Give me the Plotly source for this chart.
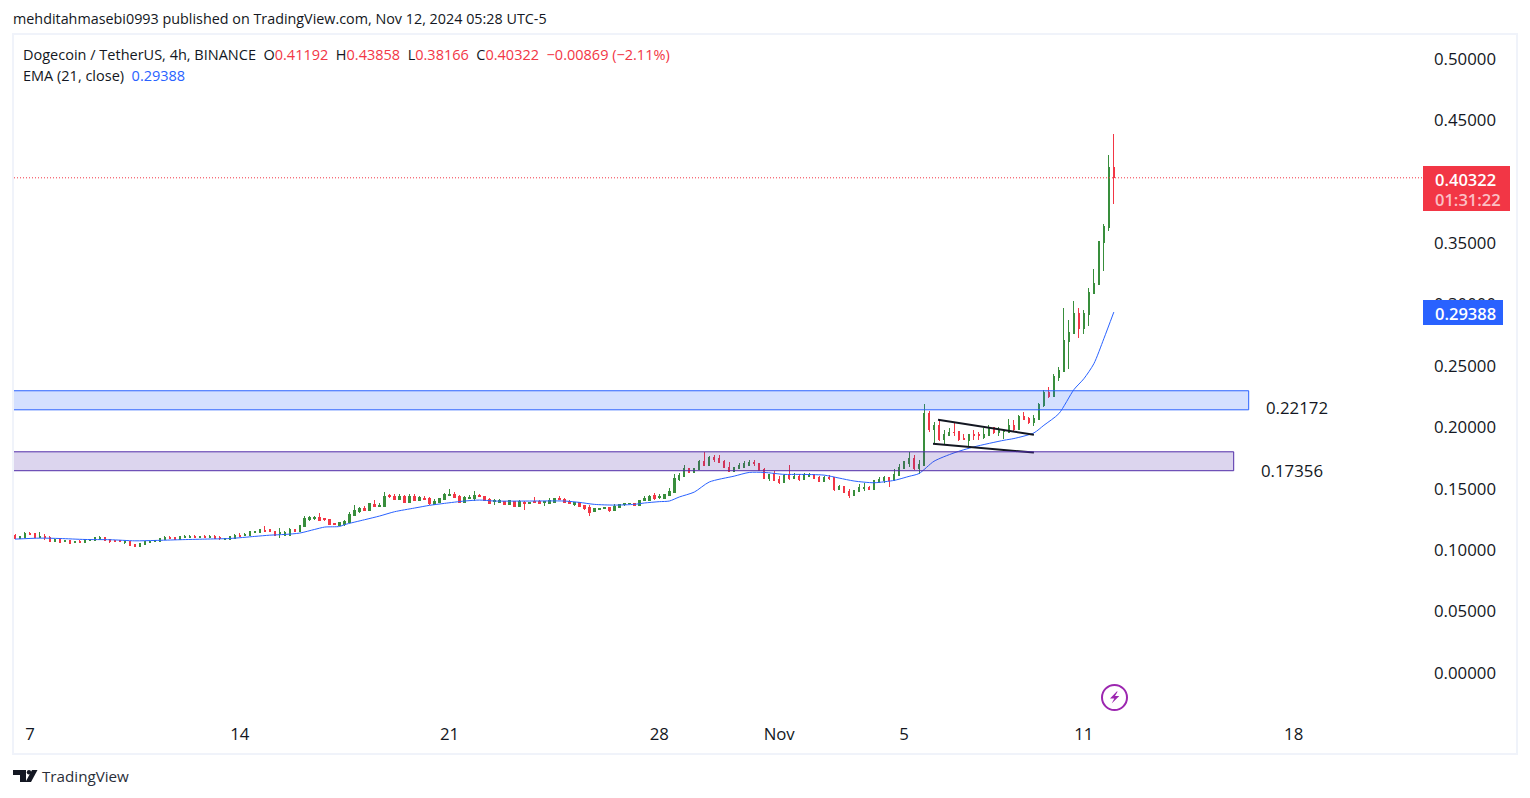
import pandas as pd
import plotly.graph_objects as go

# DOGE/USDT 4h candles, one entry per bar
opens = [
    .1122,.1093,.1101,.1139,.1136,.1101,.1114,.1106,.1071,.1090,
    .1071,.1076,.1063,.1074,.1063,.1082,.1079,.1085,.1103,.1085,
    .1082,.1082,.1063,.1068,.1049,.1030,.1049,.1063,.1074,.1071,
    .1085,.1106,.1103,.1085,.1103,.1103,.1109,.1103,.1109,.1103,
    .1109,.1103,.1090,.1090,.1095,.1120,.1122,.1120,.1141,.1147,
    .1158,.1166,.1152,.1136,.1120,.1122,.1171,.1150,.1196,.1253,
    .1255,.1269,.1255,.1250,.1216,.1202,.1205,.1227,.1283,.1313,
    .1340,.1324,.1373,.1359,.1359,.1443,.1441,.1416,.1441,.1392,
    .1441,.1408,.1424,.1422,.1373,.1389,.1416,.1446,.1457,.1441,
    .1392,.1424,.1419,.1446,.1438,.1414,.1395,.1392,.1395,.1373,
    .1395,.1357,.1392,.1384,.1400,.1397,.1386,.1384,.1389,.1424,
    .1414,.1400,.1373,.1392,.1365,.1351,.1311,.1335,.1340,.1346,
    .1324,.1351,.1373,.1376,.1378,.1367,.1408,.1405,.1443,.1427,
    .1424,.1449,.1471,.1574,.1601,.1666,.1636,.1655,.1720,.1687,
    .1755,.1747,.1725,.1671,.1644,.1666,.1674,.1693,.1714,.1706,
    .1658,.1584,.1622,.1576,.1552,.1609,.1587,.1603,.1576,.1603,
    .1614,.1592,.1563,.1595,.1590,.1495,.1519,.1481,.1446,.1479,
    .1506,.1511,.1495,.1554,.1568,.1592,.1568,.1611,.1665,.1705,
    .1749,.1665,.1692,.2115,.1985,.2017,.1903,.1933,.1960,.1963,
    .1911,.1895,.1944,.1944,.1920,.1936,.1998,.1960,.1968,.1960,
    .2017,.1985,.2090,.2074,.2039,.2066,.2180,.2285,.2253,.2407,
    .2456,.2700,.2765,.2928,.2806,.2919,.3090,.3163,.3506,.3628,.41192,
]
highs = [
    .1133,.1112,.1152,.1144,.1136,.1144,.1128,.1112,.1087,.1101,
    .1076,.1076,.1068,.1085,.1085,.1090,.1101,.1112,.1103,.1085,
    .1082,.1082,.1071,.1068,.1049,.1057,.1074,.1074,.1079,.1095,
    .1112,.1112,.1109,.1112,.1120,.1120,.1120,.1109,.1120,.1120,
    .1120,.1114,.1098,.1112,.1131,.1136,.1139,.1155,.1160,.1174,
    .1193,.1166,.1152,.1177,.1160,.1179,.1171,.1201,.1282,.1277,
    .1282,.1299,.1266,.1250,.1224,.1227,.1243,.1308,.1365,.1351,
    .1357,.1381,.1405,.1381,.1470,.1454,.1460,.1460,.1449,.1457,
    .1454,.1438,.1443,.1430,.1414,.1424,.1468,.1495,.1470,.1449,
    .1438,.1449,.1479,.1460,.1438,.1422,.1416,.1414,.1395,.1403,
    .1395,.1408,.1397,.1392,.1430,.1408,.1395,.1427,.1419,.1441,
    .1422,.1405,.1392,.1392,.1365,.1365,.1338,.1343,.1346,.1346,
    .1378,.1370,.1378,.1381,.1378,.1405,.1438,.1449,.1462,.1454,
    .1457,.1508,.1617,.1628,.1693,.1666,.1666,.1731,.1796,.1766,
    .1774,.1771,.1731,.1714,.1674,.1706,.1725,.1731,.1731,.1712,
    .1666,.1617,.1641,.1601,.1622,.1690,.1630,.1620,.1630,.1628,
    .1614,.1601,.1606,.1609,.1590,.1527,.1519,.1495,.1484,.1536,
    .1546,.1522,.1573,.1592,.1603,.1598,.1663,.1698,.1725,.1800,
    .1773,.1733,.2188,.2131,.2041,.2063,.1982,.1993,.2041,.1971,
    .1944,.1944,.1977,.1960,.1998,.2017,.2006,.2001,.1977,.2066,
    .2058,.2098,.2123,.2082,.2098,.2196,.2302,.2326,.2432,.2489,
    .2976,.2871,.3033,.2968,.2952,.3131,.3286,.3514,.3660,.4214,.43858,
]
lows = [
    .1093,.1093,.1101,.1131,.1103,.1101,.1085,.1071,.1071,.1063,
    .1063,.1047,.1055,.1066,.1063,.1082,.1079,.1079,.1079,.1055,
    .1063,.1074,.1052,.1038,.1033,.1030,.1049,.1063,.1074,.1071,
    .1085,.1095,.1085,.1085,.1103,.1103,.1103,.1103,.1103,.1103,
    .1098,.1079,.1090,.1090,.1095,.1112,.1114,.1120,.1136,.1147,
    .1152,.1155,.1122,.1098,.1120,.1122,.1152,.1150,.1196,.1234,
    .1244,.1244,.1234,.1209,.1208,.1202,.1199,.1227,.1283,.1305,
    .1324,.1324,.1359,.1359,.1359,.1422,.1414,.1416,.1392,.1392,
    .1408,.1408,.1416,.1370,.1373,.1389,.1416,.1438,.1432,.1384,
    .1384,.1424,.1400,.1441,.1408,.1381,.1367,.1392,.1365,.1373,
    .1357,.1357,.1324,.1376,.1392,.1376,.1359,.1384,.1389,.1405,
    .1384,.1376,.1362,.1359,.1324,.1278,.1311,.1335,.1340,.1313,
    .1324,.1351,.1359,.1376,.1367,.1367,.1397,.1405,.1405,.1416,
    .1424,.1449,.1471,.1563,.1601,.1636,.1636,.1655,.1690,.1687,
    .1714,.1714,.1671,.1644,.1644,.1666,.1674,.1693,.1685,.1647,
    .1587,.1563,.1568,.1538,.1552,.1573,.1587,.1563,.1576,.1595,
    .1587,.1554,.1563,.1573,.1479,.1495,.1473,.1424,.1446,.1479,
    .1484,.1495,.1495,.1554,.1546,.1514,.1568,.1611,.1665,.1676,
    .1651,.1624,.1692,.1963,.1863,.1887,.1868,.1933,.1928,.1887,
    .1895,.1852,.1901,.1895,.1903,.1936,.1949,.1928,.1903,.1960,
    .1971,.1985,.2066,.2028,.2009,.2066,.2163,.2237,.2253,.2375,
    .2456,.2472,.2765,.2724,.2762,.2822,.3090,.3163,.3270,.3595,.38166,
]
closes = [
    .1093,.1112,.1136,.1131,.1103,.1109,.1106,.1071,.1087,.1063,
    .1076,.1055,.1068,.1066,.1085,.1090,.1101,.1101,.1079,.1074,
    .1071,.1074,.1071,.1038,.1033,.1057,.1074,.1074,.1079,.1095,
    .1103,.1095,.1085,.1112,.1109,.1109,.1103,.1109,.1103,.1109,
    .1098,.1095,.1098,.1112,.1120,.1112,.1131,.1155,.1152,.1166,
    .1152,.1155,.1122,.1141,.1141,.1169,.1152,.1201,.1258,.1263,
    .1269,.1244,.1247,.1209,.1208,.1227,.1235,.1292,.1324,.1343,
    .1324,.1376,.1359,.1365,.1438,.1435,.1414,.1441,.1392,.1438,
    .1408,.1427,.1416,.1376,.1395,.1424,.1457,.1457,.1432,.1392,
    .1427,.1432,.1449,.1441,.1408,.1384,.1405,.1405,.1373,.1403,
    .1357,.1400,.1384,.1392,.1392,.1376,.1395,.1405,.1419,.1416,
    .1392,.1376,.1392,.1359,.1343,.1308,.1338,.1343,.1346,.1324,
    .1357,.1370,.1378,.1381,.1367,.1405,.1419,.1435,.1422,.1438,
    .1457,.1479,.1587,.1611,.1666,.1636,.1666,.1723,.1690,.1758,
    .1736,.1714,.1671,.1644,.1674,.1693,.1706,.1717,.1706,.1647,
    .1587,.1617,.1568,.1552,.1611,.1582,.1601,.1574,.1614,.1614,
    .1587,.1560,.1595,.1582,.1495,.1519,.1473,.1449,.1484,.1514,
    .1511,.1495,.1568,.1579,.1592,.1568,.1617,.1670,.1719,.1749,
    .1665,.1700,.2115,.1985,.2017,.1903,.1944,.1960,.1955,.1903,
    .1903,.1944,.1933,.1936,.1944,.1998,.1958,.1977,.1977,.2014,
    .1985,.2090,.2066,.2041,.2074,.2188,.2285,.2253,.2416,.2464,
    .2708,.2773,.2928,.2806,.2928,.3099,.3172,.3514,.3636,.4119,.40322,
]

# EMA 21, read at a set of bars along the line
ema_bars = [0,5,9,14,19,24,28,33,38,43,48,51,54,57,60,62,65,66,70,73,76,80,83,86,90,93,96,103,110,113,
            116,120,124,126,129,131,133,136,139,144,147,150,154,157,162,165,168,172,176,177,179,181,184,
            188,192,198,200,204,206,209,212,214,216,218,220]
ema_values = [.1090,.1098,.1095,.1087,.1085,.1076,.1079,.1085,.1090,.1095,.1112,.1122,.1128,.1139,.1169,.1188,.1193,
              .1208,.1248,.1278,.1313,.1343,.1365,.1381,.1400,.1408,.1400,.1400,.1400,.1389,.1373,.1367,.1373,.1384,
              .1395,.1400,.1433,.1473,.1555,.1603,.1633,.1633,.1617,.1617,.1611,.1587,.1563,.1549,.1568,.1578,.1601,
              .1624,.1724,.1792,.1841,.1895,.1909,.1955,.2017,.2112,.2307,.2396,.2518,.2722,.29388]

# 0.40000 sits fully behind the last price label in the picture, so it is left out
price_ticks = [0.0, 0.05, 0.1, 0.15, 0.2, 0.25, 0.3, 0.35, 0.45, 0.5]
time_tick_bars = [3, 45, 87, 129, 153, 178, 214, 256]
time_tick_labels = ["7", "14", "21", "28", "Nov", "5", "11", "18"]

# drawn zones and pennant
blue_zone = (0.2298, 0.2143)
purple_zone = (0.1801, 0.1647)
blue_zone_end = 247
purple_zone_end = 244
pennant_upper = ([184.8, 204.0], [0.2062, 0.1940])
pennant_lower = ([183.8, 204.0], [0.1866, 0.1795])

UP = "#388e3c"
DOWN = "#f23645"
BLUE = "#2962ff"
PURPLE = "#512da8"
INK = "#131722"
FONT = "Open Sans, sans-serif"

W, H = 1530, 798
PLOT_L, PLOT_R, PLOT_T, PLOT_B = 14, 1423, 35, 720


def fx(px):
    return (px - PLOT_L) / (PLOT_R - PLOT_L)


def fy(py):
    return (PLOT_B - py) / (PLOT_B - PLOT_T)


def path(points):
    # closed svg path from page pixels to paper coordinates
    return "M" + " L".join(f"{fx(x):.5f},{fy(y):.5f}" for x, y in points) + " Z"


def label(px, py, text, size=14, color=INK, anchor="left", weight=400):
    fig.add_annotation(x=fx(px), y=fy(py), xref="paper", yref="paper", text=text, showarrow=False,
                       xanchor=anchor, yanchor="middle", align=anchor, borderpad=0, borderwidth=0,
                       font=dict(family=FONT, size=size, color=color, weight=weight))


bars = list(range(len(closes)))
df = pd.DataFrame({"o": opens, "h": highs, "l": lows, "c": closes}, index=bars)

fig = go.Figure()

fig.add_trace(go.Scatter(x=ema_bars, y=ema_values, mode="lines", hoverinfo="skip",
                         line=dict(color=BLUE, width=1, shape="spline", smoothing=0.7)))
fig.add_trace(go.Candlestick(
    x=df.index, open=df.o, high=df.h, low=df.l, close=df.c, whiskerwidth=0,
    increasing=dict(line=dict(color=UP, width=1), fillcolor=UP),
    decreasing=dict(line=dict(color=DOWN, width=1), fillcolor=DOWN),
))

# pennant lines
for xs, ys in [pennant_upper, pennant_lower]:
    fig.add_trace(go.Scatter(x=xs, y=ys, mode="lines", line=dict(color=INK, width=2), hoverinfo="skip"))

# zones
fig.add_shape(type="rect", xref="x", yref="y", x0=-5, x1=blue_zone_end, y0=blue_zone[1], y1=blue_zone[0],
              fillcolor="rgba(41,98,255,0.2)", line=dict(color=BLUE, width=1), layer="above")
fig.add_shape(type="rect", xref="x", yref="y", x0=-5, x1=purple_zone_end, y0=purple_zone[1], y1=purple_zone[0],
              fillcolor="rgba(81,45,168,0.2)", line=dict(color=PURPLE, width=1), layer="above")

# last price line
fig.add_shape(type="line", xref="paper", yref="y", x0=0, x1=1, y0=closes[-1], y1=closes[-1],
              line=dict(color=DOWN, width=1, dash="1px,2px"))

# outer frame
fig.add_shape(type="rect", xref="paper", yref="paper", x0=fx(13), x1=fx(1517), y0=fy(754), y1=fy(34),
              line=dict(color="#f0f3fa", width=2), layer="below")

# price labels on the scale
fig.add_shape(type="rect", xref="paper", yref="paper", x0=fx(1423), x1=fx(1510), y0=fy(211), y1=fy(166),
              fillcolor=DOWN, line=dict(width=0), layer="above")
fig.add_shape(type="rect", xref="paper", yref="paper", x0=fx(1423), x1=fx(1503), y0=fy(325), y1=fy(300),
              fillcolor=BLUE, line=dict(width=0), layer="above")

# TradingView logo
fig.add_shape(type="path", xref="paper", yref="paper", line=dict(width=0), fillcolor=INK, layer="above",
              path=path([(13, 770), (26, 770), (26, 782), (20, 782), (20, 775), (13, 775)]))
fig.add_shape(type="path", xref="paper", yref="paper", line=dict(width=0), fillcolor=INK, layer="above",
              path=path([(32, 770), (37.5, 770), (31, 782), (25.5, 782)]))
fig.add_shape(type="circle", xref="paper", yref="paper", x0=fx(26.8), x1=fx(31.2), y0=fy(774.4), y1=fy(770),
              line=dict(width=0), fillcolor=INK, layer="above")

# lightning marker
fig.add_shape(type="circle", xref="paper", yref="paper", x0=fx(1102), x1=fx(1127), y0=fy(710), y1=fy(685),
              line=dict(color="#9c27b0", width=2), fillcolor="white", layer="above")
fig.add_shape(type="path", xref="paper", yref="paper", line=dict(width=0), fillcolor="#9c27b0", layer="above",
              path=path([(1116.7, 691.5), (1110, 698.5), (1114.3, 698.5), (1111.7, 703.5),
                         (1119.3, 696), (1115, 696), (1117.7, 691.5)]))

# header and legend text
label(13, 19, "mehditahmasebi0993 published on TradingView.com, Nov 12, 2024 05:28 UTC-5", size=14.35)
red = lambda s: f'<span style="color:{DOWN}">{s}</span>'
label(23, 54, "Dogecoin / TetherUS, 4h, BINANCE&nbsp;&nbsp;O" + red("0.41192") + "&nbsp;&nbsp;H" + red("0.43858")
      + "&nbsp;&nbsp;L" + red("0.38166") + "&nbsp;&nbsp;C" + red("0.40322") + "&nbsp;&nbsp;" + red("−0.00869 (−2.11%)"),
      size=14.5)
label(23, 75, f'EMA (21, close)&nbsp;&nbsp;<span style="color:{BLUE}">0.29388</span>', size=14.5)

# label text
label(1266, 407, "0.22172", size=16.8, weight=500)
label(1261, 470, "0.17356", size=16.8, weight=500)
label(1435, 179, "0.40322", size=16.5, color="white", weight=600)
label(1435, 199, "01:31:22", size=16.5, color="rgba(255,255,255,0.7)", weight=600)
label(1435, 313, "0.29388", size=16.5, color="white", weight=600)
label(42, 776, "TradingView", size=15.2, color="#2a2e39")

fig.update_layout(
    width=W, height=H, showlegend=False, plot_bgcolor="white", paper_bgcolor="white",
    margin=dict(l=PLOT_L, r=W - PLOT_R, t=PLOT_T, b=H - PLOT_B, autoexpand=False),
    boxgap=0.6,
    font=dict(family=FONT, color=INK),
    xaxis=dict(range=[-0.2, 281.9], rangeslider=dict(visible=False), showgrid=False, zeroline=False, showline=False,
               tickmode="array", tickvals=time_tick_bars, ticktext=time_tick_labels, ticks="",
               tickfont=dict(size=16.8, color=INK, weight=500), ticklabelstandoff=2),
    yaxis=dict(range=[-0.0383, 0.5195], side="right", showgrid=False, zeroline=False, showline=False,
               tickmode="array", tickvals=price_ticks, ticktext=[f"{p:.5f}" for p in price_ticks], ticks="",
               tickfont=dict(size=16.8, color=INK, weight=500), ticklabelstandoff=10),
)

# crisp candles: solid 1px wicks like the original canvas
crisp = "document.body.style.margin='0';document.querySelectorAll('.boxes path').forEach(p=>p.style.shapeRendering='crispEdges');"
fig.write_html("out.html", post_script=crisp, config=dict(displayModeBar=False))
